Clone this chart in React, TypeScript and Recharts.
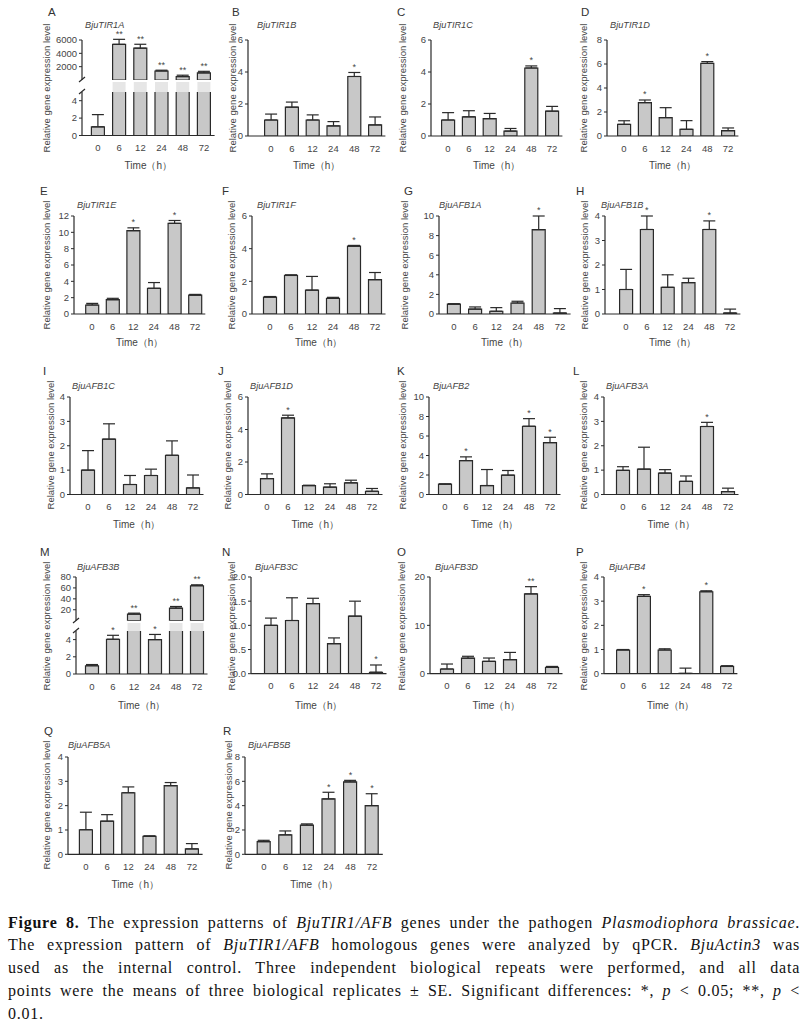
import React from "react";
import { Bar, ComposedChart, ErrorBar, LabelList, Line, XAxis, YAxis } from "recharts";

const hours = ["0", "6", "12", "24", "48", "72"];

// mean and upper SE, sig = asterisks above the bar
const tir1aMean = [1, 5350, 4770, 1350, 520, 1070];
const tir1aErr = [1.4, 750, 590, 120, 200, 230];
const tir1aSig = ["", "**", "**", "**", "**", "**"];

const tir1bMean = [1.0, 1.8, 1.0, 0.63, 3.72, 0.69];
const tir1bErr = [0.37, 0.32, 0.32, 0.27, 0.25, 0.5];
const tir1bSig = ["", "", "", "", "*", ""];

const tir1cMean = [1.0, 1.2, 1.08, 0.31, 4.25, 1.55];
const tir1cErr = [0.46, 0.38, 0.33, 0.16, 0.13, 0.3];
const tir1cSig = ["", "", "", "", "*", ""];

const tir1dMean = [0.97, 2.78, 1.53, 0.56, 6.05, 0.44];
const tir1dErr = [0.3, 0.22, 0.83, 0.72, 0.15, 0.23];
const tir1dSig = ["", "*", "", "", "*", ""];

const tir1eMean = [1.1, 1.75, 10.2, 3.15, 11.1, 2.3];
const tir1eErr = [0.2, 0.17, 0.35, 0.7, 0.35, 0.1];
const tir1eSig = ["", "", "*", "", "*", ""];

const tir1fMean = [1.03, 2.36, 1.46, 0.96, 4.15, 2.1];
const tir1fErr = [0.04, 0.04, 0.84, 0.06, 0.05, 0.44];
const tir1fSig = ["", "", "", "", "*", ""];

const afb1aMean = [1.0, 0.5, 0.28, 1.12, 8.6, 0.1];
const afb1aErr = [0.05, 0.22, 0.37, 0.18, 1.4, 0.45];
const afb1aSig = ["", "", "", "", "*", ""];

const afb1bMean = [1.0, 3.45, 1.09, 1.28, 3.45, 0.04];
const afb1bErr = [0.82, 0.55, 0.51, 0.18, 0.35, 0.16];
const afb1bSig = ["", "*", "", "", "*", ""];

const afb1cMean = [1.0, 2.27, 0.41, 0.78, 1.61, 0.27];
const afb1cErr = [0.8, 0.63, 0.37, 0.26, 0.59, 0.53];
const afb1cSig = ["", "", "", "", "", ""];

const afb1dMean = [0.98, 4.71, 0.55, 0.45, 0.72, 0.2];
const afb1dErr = [0.29, 0.17, 0.02, 0.21, 0.16, 0.17];
const afb1dSig = ["", "*", "", "", "", ""];

const afb2Mean = [1.06, 3.48, 0.92, 1.98, 7.0, 5.32];
const afb2Err = [0.03, 0.38, 1.64, 0.48, 0.78, 0.55];
const afb2Sig = ["", "*", "", "", "*", "*"];

const afb3aMean = [0.99, 1.04, 0.88, 0.54, 2.79, 0.12];
const afb3aErr = [0.15, 0.9, 0.14, 0.22, 0.17, 0.14];
const afb3aSig = ["", "", "", "", "*", ""];

const afb3bMean = [0.96, 4.04, 12.1, 4.0, 23, 64];
const afb3bErr = [0.14, 0.46, 1.7, 0.6, 3, 1.7];
const afb3bSig = ["", "*", "**", "*", "**", "**"];

const afb3cMean = [1.0, 1.1, 1.45, 0.62, 1.19, 0.03];
const afb3cErr = [0.15, 0.47, 0.11, 0.12, 0.31, 0.15];
const afb3cSig = ["", "", "", "", "", "*"];

const afb3dMean = [0.97, 3.2, 2.55, 2.9, 16.5, 1.3];
const afb3dErr = [1.03, 0.4, 0.69, 1.5, 1.5, 0.2];
const afb3dSig = ["", "", "", "", "**", ""];

const afb4Mean = [0.98, 3.2, 0.98, 0.01, 3.39, 0.3];
const afb4Err = [0.02, 0.07, 0.05, 0.22, 0.04, 0.03];
const afb4Sig = ["", "*", "", "", "*", ""];

const afb5aMean = [1.01, 1.36, 2.53, 0.74, 2.82, 0.22];
const afb5aErr = [0.72, 0.27, 0.24, 0.02, 0.13, 0.22];
const afb5aSig = ["", "", "", "", "", ""];

const afb5bMean = [1.04, 1.6, 2.4, 4.55, 5.95, 4.0];
const afb5bErr = [0.11, 0.32, 0.1, 0.55, 0.13, 0.98];
const afb5bSig = ["", "", "", "*", "*", "*"];

// axis ticks
const ticks4 = [0, 1, 2, 3, 4];
const ticks6 = [0, 2, 4, 6];
const ticks8 = [0, 2, 4, 6, 8];
const ticks10 = [0, 2, 4, 6, 8, 10];
const ticks12 = [0, 2, 4, 6, 8, 10, 12];
const ticks20 = [0, 10, 20];
const ticksHalf = [0, 0.5, 1, 1.5, 2];
const ticksHalfLabels = ["0.0", ".5", "1.0", "1.5", "2.0"];
const ticksLowBreak = [0, 2, 4];
const ticksTir1aUpper = [2000, 4000, 6000];
const ticksAfb3bUpper = [20, 40, 60, 80];

const FONT = "'Liberation Sans', Arial, sans-serif";
const INK = "#2a2a2a";
const TEXT = "#444";

const rowLayout = [
  { letterY: 13, titleY: 25.5, top: 39.5, bottom: 135.5, timeY: 166 },
  { letterY: 192, titleY: 205.5, top: 215.5, bottom: 313.5, timeY: 343 },
  { letterY: 372, titleY: 387, top: 396.5, bottom: 494, timeY: 525 },
  { letterY: 553, titleY: 567.5, top: 577.3, bottom: 674, timeY: 706 },
  { letterY: 732, titleY: 746, top: 756.7, bottom: 854, timeY: 885 }
];

type PanelDef = {
  id: string;
  gene: string;
  mean: number[];
  err: number[];
  sig: string[];
  row: number;
  axisX: number;
  x0: number;
  x5: number;
  letterX: number;
  titleX: number;
  labelX: number;
  ticks: number[];
  max: number;
  tickLabels?: string[];
  broken?: { upMax: number; upTicks: number[]; upTop: number; upBottom: number; lowTop: number };
};

const panels: PanelDef[] = [
  { id: "A", gene: "BjuTIR1A", mean: tir1aMean, err: tir1aErr, sig: tir1aSig, row: 0, axisX: 82, x0: 98, x5: 204, letterX: 48, titleX: 85, labelX: 47, ticks: ticksLowBreak, max: 5,
    broken: { upMax: 6000, upTicks: ticksTir1aUpper, upTop: 40, upBottom: 80, lowTop: 92 } },
  { id: "B", gene: "BjuTIR1B", mean: tir1bMean, err: tir1bErr, sig: tir1bSig, row: 0, axisX: 248, x0: 271, x5: 375, letterX: 232, titleX: 257, labelX: 233, ticks: ticks6, max: 6 },
  { id: "C", gene: "BjuTIR1C", mean: tir1cMean, err: tir1cErr, sig: tir1cSig, row: 0, axisX: 431, x0: 448, x5: 552, letterX: 397, titleX: 433, labelX: 403, ticks: ticks6, max: 6 },
  { id: "D", gene: "BjuTIR1D", mean: tir1dMean, err: tir1dErr, sig: tir1dSig, row: 0, axisX: 607, x0: 624, x5: 728, letterX: 581, titleX: 610, labelX: 584, ticks: ticks8, max: 8 },
  { id: "E", gene: "BjuTIR1E", mean: tir1eMean, err: tir1eErr, sig: tir1eSig, row: 1, axisX: 74, x0: 92, x5: 195, letterX: 40, titleX: 77, labelX: 47, ticks: ticks12, max: 12 },
  { id: "F", gene: "BjuTIR1F", mean: tir1fMean, err: tir1fErr, sig: tir1fSig, row: 1, axisX: 252, x0: 270, x5: 375, letterX: 222, titleX: 257, labelX: 232, ticks: ticks6, max: 6 },
  { id: "G", gene: "BjuAFB1A", mean: afb1aMean, err: afb1aErr, sig: afb1aSig, row: 1, axisX: 439, x0: 454, x5: 560, letterX: 404, titleX: 439, labelX: 405, ticks: ticks10, max: 10 },
  { id: "H", gene: "BjuAFB1B", mean: afb1bMean, err: afb1bErr, sig: afb1bSig, row: 1, axisX: 605, x0: 626, x5: 730, letterX: 576, titleX: 601, labelX: 585, ticks: ticks4, max: 4 },
  { id: "I", gene: "BjuAFB1C", mean: afb1cMean, err: afb1cErr, sig: afb1cSig, row: 2, axisX: 70, x0: 88, x5: 193, letterX: 43, titleX: 72, labelX: 51, ticks: ticks4, max: 4 },
  { id: "J", gene: "BjuAFB1D", mean: afb1dMean, err: afb1dErr, sig: afb1dSig, row: 2, axisX: 248, x0: 267, x5: 372, letterX: 218, titleX: 250, labelX: 228, ticks: ticks6, max: 6 },
  { id: "K", gene: "BjuAFB2", mean: afb2Mean, err: afb2Err, sig: afb2Sig, row: 2, axisX: 429, x0: 445, x5: 550, letterX: 397, titleX: 433, labelX: 403, ticks: ticks10, max: 10 },
  { id: "L", gene: "BjuAFB3A", mean: afb3aMean, err: afb3aErr, sig: afb3aSig, row: 2, axisX: 604, x0: 623, x5: 728, letterX: 573, titleX: 606, labelX: 584, ticks: ticks4, max: 4 },
  { id: "M", gene: "BjuAFB3B", mean: afb3bMean, err: afb3bErr, sig: afb3bSig, row: 3, axisX: 76, x0: 92, x5: 197, letterX: 40, titleX: 77, labelX: 47, ticks: ticksLowBreak, max: 5,
    broken: { upMax: 80, upTicks: ticksAfb3bUpper, upTop: 577.3, upBottom: 621, lowTop: 631 } },
  { id: "N", gene: "BjuAFB3C", mean: afb3cMean, err: afb3cErr, sig: afb3cSig, row: 3, axisX: 251, x0: 271, x5: 376, letterX: 222, titleX: 255, labelX: 232, ticks: ticksHalf, max: 2, tickLabels: ticksHalfLabels },
  { id: "O", gene: "BjuAFB3D", mean: afb3dMean, err: afb3dErr, sig: afb3dSig, row: 3, axisX: 430, x0: 447, x5: 552, letterX: 397, titleX: 435, labelX: 402, ticks: ticks20, max: 20 },
  { id: "P", gene: "BjuAFB4", mean: afb4Mean, err: afb4Err, sig: afb4Sig, row: 3, axisX: 604, x0: 623, x5: 727, letterX: 576, titleX: 609, labelX: 584, ticks: ticks4, max: 4 },
  { id: "Q", gene: "BjuAFB5A", mean: afb5aMean, err: afb5aErr, sig: afb5aSig, row: 4, axisX: 68, x0: 86, x5: 192, letterX: 44, titleX: 68, labelX: 47, ticks: ticks4, max: 4 },
  { id: "R", gene: "BjuAFB5B", mean: afb5bMean, err: afb5bErr, sig: afb5bSig, row: 4, axisX: 245, x0: 264, x5: 372, letterX: 223, titleX: 248, labelX: 229, ticks: ticks8, max: 8 }
];

const renderStar = (props: any) => {
  const x = props.x ?? props.viewBox?.x;
  const y = props.y ?? props.viewBox?.y;
  if (!props.value || y == null || Number.isNaN(y)) return null;
  return (
    <text x={x} y={y - 2.5} textAnchor="middle" fontSize={9} fill={TEXT} fontFamily={FONT}>
      {props.value}
    </text>
  );
};

type Row = { hour: string; mean: number | null; err: number[]; top: number | null; sig: string };

const YW = 40;
const MT = 16;
const XH = 24;

function Segment({
  rows, max, ticks, tickLabels, axisX, plotTop, plotBottom, plotW, padLeft, showX, ghost
}: {
  rows: Row[]; max: number; ticks: number[]; tickLabels?: string[]; axisX: number; plotTop: number; plotBottom: number;
  plotW: number; padLeft: number; showX: boolean; ghost?: boolean;
}) {
  const plotH = plotBottom - plotTop;
  const width = YW + plotW + 4;
  const height = MT + plotH + (showX ? XH : 0);
  return (
    <div style={{ position: "absolute", left: axisX - YW, top: plotTop - MT }}>
      <ComposedChart width={width} height={height} data={rows} margin={{ top: MT, right: 4, bottom: 0, left: 0 }} barSize={13}>
        <XAxis
          dataKey="hour"
          hide={!showX}
          height={XH}
          interval={0}
          padding={{ left: padLeft, right: 0 }}
          tickLine={false}
          tickSize={6}
          tickMargin={3}
          axisLine={{ stroke: INK, strokeWidth: 1.2 }}
          tick={{ fontSize: 9.5, fill: TEXT, fontFamily: FONT }}
        />
        <YAxis
          width={YW}
          domain={[0, max]}
          ticks={ticks}
          interval={0}
          allowDataOverflow
          axisLine={ghost ? false : { stroke: INK, strokeWidth: 1.2 }}
          tick={ghost ? false : { fontSize: 9.5, fill: TEXT, fontFamily: FONT }}
          tickLine={ghost ? false : { stroke: INK }}
          tickSize={3}
          tickMargin={2}
          tickFormatter={(v: number) => (tickLabels ? tickLabels[ticks.indexOf(v)] : String(v))}
        />
        <Bar
          dataKey="mean"
          fill={ghost ? "#e6e6e6" : "#c8c8c8"}
          stroke={ghost ? "none" : INK}
          strokeWidth={1.2}
          isAnimationActive={false}
        >
          {ghost ? null : <ErrorBar dataKey="err" width={6} stroke={INK} strokeWidth={1.2} direction="y" />}
        </Bar>
        {ghost ? null : (
          <Line dataKey="top" stroke="none" dot={false} activeDot={false} isAnimationActive={false}>
            <LabelList dataKey="sig" content={renderStar} />
          </Line>
        )}
      </ComposedChart>
    </div>
  );
}

function textAt(x: number, y: number, content: React.ReactNode, style: React.CSSProperties) {
  return (
    <div style={{ position: "absolute", left: x, top: y, transform: "translateY(-50%)", whiteSpace: "nowrap", fontFamily: FONT, color: TEXT, lineHeight: 1, ...style }}>
      {content}
    </div>
  );
}

function Panel({ p }: { p: PanelDef }) {
  const r = rowLayout[p.row];
  const dx = (p.x5 - p.x0) / 5;
  const padLeft = p.x0 - dx / 2 - p.axisX;
  const plotW = padLeft + dx * 6;
  const plotTop = p.broken ? p.broken.upTop : r.top;
  const centerY = (plotTop + r.bottom) / 2;

  const full: Row[] = hours.map((h, i) => ({
    hour: h, mean: p.mean[i], err: [0, p.err[i]], top: p.sig[i] ? p.mean[i] + p.err[i] : null, sig: p.sig[i]
  }));

  let charts: React.ReactNode;
  if (p.broken) {
    const b = p.broken;
    const lower: Row[] = full.map((d, i) => {
      const fits = p.mean[i] + p.err[i] <= p.max;
      return { ...d, err: fits ? d.err : [0, 0], top: fits ? d.top : null, sig: fits ? d.sig : "" };
    });
    const upper: Row[] = full.map((d, i) => {
      const over = p.mean[i] > p.max;
      return { ...d, mean: over ? d.mean : null, err: over ? d.err : [0, 0], top: over ? d.top : null, sig: over ? d.sig : "" };
    });
    const gap: Row[] = full.map((d, i) => ({ ...d, mean: p.mean[i] > p.max ? 1 : null, top: null, sig: "" }));
    charts = (
      <>
        <Segment rows={upper} max={b.upMax} ticks={b.upTicks} axisX={p.axisX} plotTop={b.upTop} plotBottom={b.upBottom} plotW={plotW} padLeft={padLeft} showX={false} />
        <Segment rows={gap} max={1} ticks={[0, 1]} axisX={p.axisX} plotTop={b.upBottom + 1.5} plotBottom={b.lowTop - 0.5} plotW={plotW} padLeft={padLeft} showX={false} ghost />
        <Segment rows={lower} max={p.max} ticks={p.ticks} axisX={p.axisX} plotTop={b.lowTop} plotBottom={r.bottom} plotW={plotW} padLeft={padLeft} showX />
        <svg style={{ position: "absolute", left: p.axisX - 5, top: b.upBottom - 5, overflow: "visible" }} width={10} height={b.lowTop - b.upBottom + 10}>
          <line x1={2} y1={7} x2={8} y2={2} stroke={INK} strokeWidth={1.2} />
          <line x1={2} y1={b.lowTop - b.upBottom + 7} x2={8} y2={b.lowTop - b.upBottom + 2} stroke={INK} strokeWidth={1.2} />
        </svg>
      </>
    );
  } else {
    charts = (
      <Segment rows={full} max={p.max} ticks={p.ticks} tickLabels={p.tickLabels} axisX={p.axisX} plotTop={r.top} plotBottom={r.bottom} plotW={plotW} padLeft={padLeft} showX />
    );
  }

  return (
    <>
      {charts}
      {textAt(p.letterX, r.letterY, p.id, { fontSize: 11.5, color: "#333" })}
      {textAt(p.titleX, r.titleY, p.gene, { fontSize: 9.2, fontStyle: "italic" })}
      <div
        style={{
          position: "absolute", left: p.labelX, top: centerY, transform: "translate(-50%, -50%) rotate(-90deg)",
          whiteSpace: "nowrap", fontFamily: FONT, fontSize: 9.5, color: TEXT, lineHeight: 1
        }}
      >
        Relative gene expression level
      </div>
      <div
        style={{
          position: "absolute", left: p.axisX + plotW / 2, top: r.timeY, transform: "translate(-50%, -50%)",
          whiteSpace: "nowrap", fontFamily: FONT, fontSize: 10, color: TEXT, lineHeight: 1
        }}
      >
        Time（h）
      </div>
    </>
  );
}

const lineStyle: React.CSSProperties = { height: 22.8, textAlign: "justify", textAlignLast: "justify", whiteSpace: "nowrap" };

export default function App() {
  return (
    <div style={{ position: "absolute", left: 0, top: 0, width: 808, height: 1033, background: "#fff", overflow: "hidden" }}>
      {panels.map((p) => (
        <Panel key={p.id} p={p} />
      ))}
      <div
        style={{
          position: "absolute", left: 8, top: 911.5, width: 792, fontFamily: "'Liberation Serif', 'Times New Roman', serif",
          fontSize: 16, lineHeight: "22.8px", color: "#111", letterSpacing: 0.75
        }}
      >
        <div style={lineStyle}>
          <b>Figure 8.</b> The expression patterns of <i>BjuTIR1/AFB</i> genes under the pathogen <i>Plasmodiophora brassicae</i>.
        </div>
        <div style={lineStyle}>
          The expression pattern of <i>BjuTIR1/AFB</i> homologous genes were analyzed by qPCR. <i>BjuActin3</i> was
        </div>
        <div style={lineStyle}>
          used as the internal control. Three independent biological repeats were performed, and all data
        </div>
        <div style={lineStyle}>
          points were the means of three biological replicates ± SE. Significant differences: *, <i>p</i> &lt; 0.05; **, <i>p</i> &lt;
        </div>
        <div style={{ height: 22.8 }}>0.01.</div>
      </div>
    </div>
  );
}
